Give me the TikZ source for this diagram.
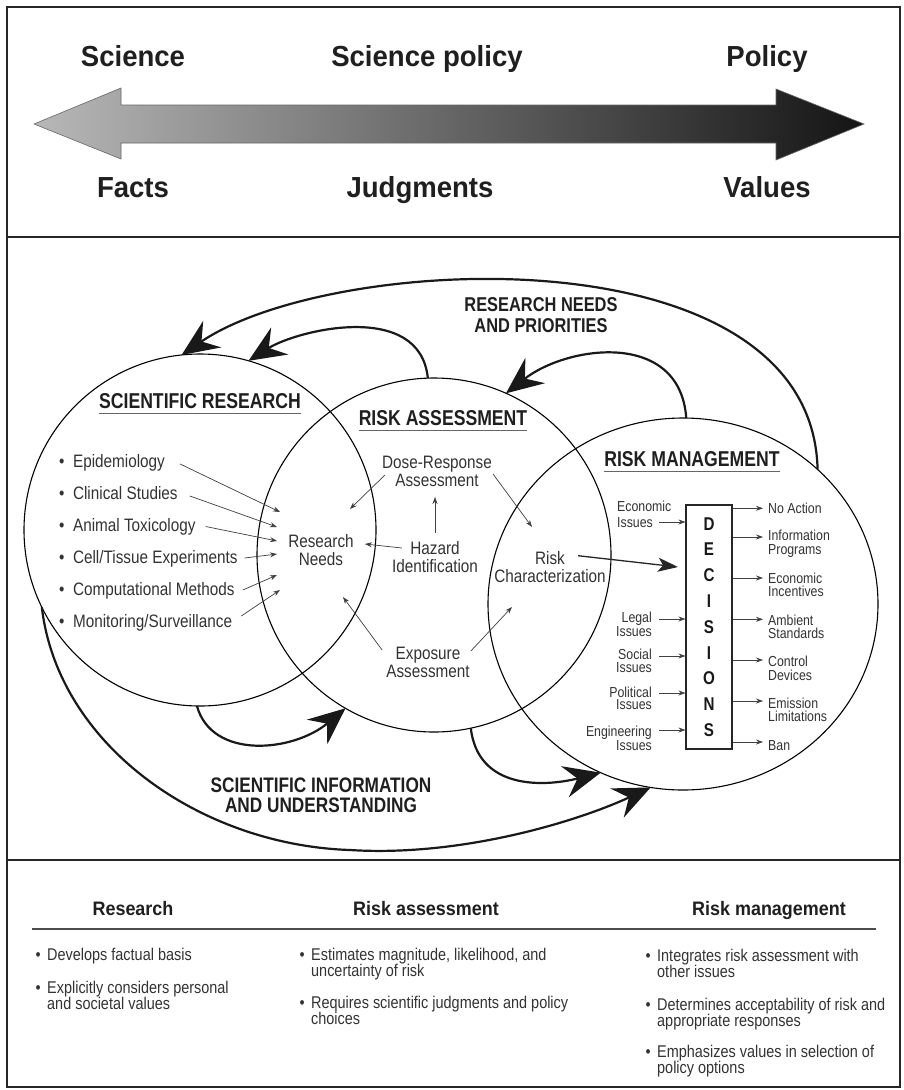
\documentclass[tikz,border=0pt]{standalone}
\usepackage{fontspec}
\setmainfont{Liberation Sans}
\newfontfamily\cn[FakeStretch=0.85]{Liberation Sans}
\newfontfamily\cb[FakeStretch=0.82]{Liberation Sans}
\newfontfamily\cm[FakeStretch=0.92]{Liberation Sans}
\newfontfamily\cw[FakeStretch=0.95]{Liberation Sans}
\usetikzlibrary{arrows.meta,shapes.geometric,calc}
\begin{document}
\begin{tikzpicture}[x=1pt,y=-1pt,
  frame/.style={draw=black!85,line width=2pt},
  ring/.style={draw=black,line width=1.1pt,circle,inner sep=0pt,outer sep=0pt},
  big/.style={line width=2.2pt,draw=black!90,-{Stealth[length=37pt,width=32pt,inset=13pt]}},
  medarrow/.style={line width=1.3pt,draw=black!85,-{Stealth[length=20pt,width=14pt,inset=5pt]}},
  tarrow/.style={draw=black!75,line width=0.7pt,-{Stealth[length=7pt,width=5pt]}},
  toptxt/.style={font=\cw\bfseries\fontsize{29}{29}\selectfont,text=black!88,anchor=base,inner sep=0pt},
  title/.style={font=\cb\bfseries\fontsize{21.5}{21.5}\selectfont,text=black!88,anchor=base,inner sep=0pt},
  bigl/.style={font=\cb\bfseries\fontsize{20}{21}\selectfont,text=black!88,align=center,anchor=north,inner sep=0pt},
  item/.style={font=\cn\fontsize{18}{18}\selectfont,text=black!80,anchor=base west,inner sep=0pt},
  lab/.style={font=\cn\fontsize{18}{18}\selectfont,text=black!80,align=center,anchor=north,inner sep=0pt},
  sm/.style={font=\cn\fontsize{14.5}{12.6}\selectfont,text=black!80,inner sep=0pt},
  smr/.style={font=\cn\fontsize{14.5}{13.3}\selectfont,text=black!80,inner sep=0pt,anchor=north west,align=left},
  hdr/.style={font=\cm\bfseries\fontsize{19.5}{19.5}\selectfont,text=black!88,anchor=base,inner sep=0pt},
  bl/.style={font=\cn\fontsize{17}{15}\selectfont,text=black!80,align=left,anchor=north west,inner sep=0pt},
  uline/.style={draw=black!60,line width=0.8pt}
]
\useasboundingbox (0,0) rectangle (903,1090);
\fill[white] (0,0) rectangle (903,1090);

% frame
\draw[frame] (7,7) rectangle (900,1087);
\draw[frame] (7,237) -- (900,237);
\draw[frame] (7,860) -- (900,860);

% top double arrow
\path[left color=black!28,right color=black!92,draw=black!60,line width=0.6pt]
  (34,124) -- (121,88) -- (121,105) -- (776,105) -- (776,89) -- (864,124)
  -- (776,160) -- (776,143) -- (121,143) -- (121,159) -- cycle;
\node[toptxt] (sci) at (133,66) {Science};
\node[toptxt] (scp) at (427,66) {Science policy};
\node[toptxt] (pol) at (767,66) {Policy};
\node[toptxt] (fac) at (133,197) {Facts};
\node[toptxt] (jud) at (420,197) {Judgments};
\node[toptxt] (val) at (767,197) {Values};

% circles
\node[ring,minimum size=352pt] (sr) at (200,530) {};
\node[ring,minimum size=354pt] (ra) at (434,555) {};
\node[ring,ellipse,minimum width=390pt,minimum height=372pt] (rm) at (683,604) {};

% big feedback arrows
\draw[big] (rm.45) .. controls (812,230) and (333,252) .. (sr.96.5);
\draw[big] (ra.92) .. controls (420,300) and (297,330) .. (sr.74);
\draw[big] (rm.89) .. controls (680,330) and (568,345) .. (ra.66);
\draw[big] (sr.-91) .. controls (212,760) and (293,752) .. (ra.240);
\draw[big] (ra.-78) .. controls (478,790) and (544,787) .. (rm.244);
\draw[big] (sr.206) .. controls (58,745) and (200,845) .. (350,850)
   .. controls (460,857) and (576,822) .. (rm.260);

\node[bigl] (rnp) at (541,297) {RESEARCH NEEDS\\AND PRIORITIES};
\node[bigl,font=\cb\bfseries\fontsize{21}{20}\selectfont] (siu) at (321,778) {SCIENTIFIC INFORMATION\\AND UNDERSTANDING};

% titles
\node[title] (srt) at (200,408) {SCIENTIFIC RESEARCH};
\draw[uline] ([yshift=-5.5pt]srt.base west) -- ([yshift=-5.5pt]srt.base east);
\node[title] (rat) at (443,425) {RISK ASSESSMENT};
\draw[uline] ([yshift=-5pt]rat.base west) -- ([yshift=-5pt]rat.base east);
\node[title] (rmt) at (692,466) {RISK MANAGEMENT};
\draw[uline] ([yshift=-5pt]rmt.base west) -- ([yshift=-5pt]rmt.base east);

% scientific research items
\node[item] (i1) at (59,467) {•\hspace{8.5pt}Epidemiology};
\node[item] (i2) at (59,499) {•\hspace{8.5pt}Clinical Studies};
\node[item] (i3) at (59,531) {•\hspace{8.5pt}Animal Toxicology};
\node[item] (i4) at (59,563) {•\hspace{8.5pt}Cell/Tissue Experiments};
\node[item] (i5) at (59,595) {•\hspace{8.5pt}Computational Methods};
\node[item] (i6) at (59,627) {•\hspace{8.5pt}Monitoring/Surveillance};
\coordinate (e1) at (280,512);
\coordinate (e2) at (277,527);
\coordinate (e3) at (277,541);
\coordinate (e4) at (277,554);
\coordinate (e5) at (277,575);
\coordinate (e6) at (280,590);
\draw[tarrow] ([shift={(15,-3)}]i1.base east) -- (e1);
\draw[tarrow] ([shift={(12,-3)}]i2.base east) -- (e2);
\draw[tarrow] ([shift={(10,-4.5)}]i3.base east) -- (e3);
\draw[tarrow] ([shift={(7,-5)}]i4.base east) -- (e4);
\draw[tarrow] ([shift={(8,-5)}]i5.base east) -- (e5);
\draw[tarrow] ([shift={(9,-11)}]i6.base east) -- (e6);

% risk assessment labels
\node[lab] (rn) at (321,534) {Research\\Needs};
\node[lab] (hz) at (435,541) {Hazard\\Identification};
\node[lab] (dr) at (437,456) {Dose-Response\\Assessment};
\node[lab] (ex) at (428,647) {Exposure\\Assessment};
\node[lab] (rc) at (550,551.7) {Risk\\Characterization};
\draw[tarrow] ([shift={(10,7)}]hz.north west) -- ([shift={(11,10)}]rn.north east);
\draw[tarrow] ([yshift=8pt]hz.north) -- ([shift={(-2,10)}]dr.south);
\coordinate (a3) at (350,509);
\coordinate (a4) at (532,527);
\coordinate (a5) at (343,597);
\coordinate (a6) at (512,607);
\coordinate (a7) at (678,567);
\draw[tarrow] ([shift={(3,19)}]dr.north west) -- (a3);
\draw[tarrow] ([shift={(1,18)}]dr.north east) -- (a4);
\draw[tarrow] ([shift={(-4,3)}]ex.north west) -- (a5);
\draw[tarrow] ([shift={(1,4)}]ex.north east) -- (a6);
\draw[medarrow] ([shift={(28,4)}]rc.north) -- (a7);

% decisions
\node[draw=black!85,line width=1.1pt,minimum width=46pt,minimum height=244pt,inner sep=0pt,
  align=center,text=black!90,font=\cb\bfseries\fontsize{18.5}{25.8}\selectfont] (dec) at (709,627)
  {D\\E\\C\\I\\S\\I\\O\\N\\S};

\node[sm,anchor=north west,align=left,font=\cn\fontsize{14.5}{16}\selectfont] (ein) at (617,500.7) {Economic\\Issues};
\node[sm,anchor=north east,align=right] (lg) at (652,612) {Legal\\Issues};
\node[sm,anchor=north east,align=right] (so) at (652,649) {Social\\Issues};
\node[sm,anchor=north east,align=right] (po) at (652,686.5) {Political\\Issues};
\node[sm,anchor=north east,align=right] (en) at (652,725.5) {Engineering\\Issues};
\coordinate (c1) at (659,522);
\coordinate (c2) at (659,619);
\coordinate (c3) at (659,656);
\coordinate (c4) at (659,693);
\coordinate (c5) at (659,730);
\foreach \c in {c1,c2,c3,c4,c5} { \draw[tarrow] (\c) -- (\c -| dec.west); }

\node[smr] (o1) at (768,503) {No Action};
\node[smr] (o2) at (768,530) {Information\\Programs};
\node[smr] (o3) at (768,572.5) {Economic\\Incentives};
\node[smr] (o4) at (768,614.5) {Ambient\\Standards};
\node[smr] (o5) at (768,656) {Control\\Devices};
\node[smr] (o6) at (768,697.5) {Emission\\Limitations};
\node[smr] (o7) at (768,740) {Ban};
\coordinate (q1) at (763,508.3);
\coordinate (q2) at (763,537);
\coordinate (q3) at (763,578);
\coordinate (q4) at (763,619.3);
\coordinate (q5) at (763,660);
\coordinate (q6) at (763,701);
\coordinate (q7) at (763,742);
\foreach \q in {q1,q2,q3,q4,q5,q6,q7} { \draw[tarrow] (\q -| dec.east) -- (\q); }

% bottom panel
\node[hdr] (h1) at (133,915) {Research};
\node[hdr] (h2) at (426,915) {Risk assessment};
\node[hdr] (h3) at (769,915) {Risk management};
\draw[draw=black!70,line width=1.2pt] (32,929) -- (876,929);

\node[bl] (b11) at (35.5,947.6) {\makebox[11.5pt][l]{•}Develops factual basis};
\node[bl] (b12) at (35.5,980.6) {\makebox[11.5pt][l]{•}Explicitly considers personal\\\hspace*{11.5pt}and societal values};
\node[bl] (b21) at (299.5,947.6) {\makebox[11.5pt][l]{•}Estimates magnitude, likelihood, and\\\hspace*{11.5pt}uncertainty of risk};
\node[bl] (b22) at (299.5,995.6) {\makebox[11.5pt][l]{•}Requires scientific judgments and policy\\\hspace*{11.5pt}choices};
\node[bl] (b31) at (645.5,948.6) {\makebox[11.5pt][l]{•}Integrates risk assessment with\\\hspace*{11.5pt}other issues};
\node[bl] (b32) at (645.5,997.6) {\makebox[11.5pt][l]{•}Determines acceptability of risk and\\\hspace*{11.5pt}appropriate responses};
\node[bl] (b33) at (645.5,1044.6) {\makebox[11.5pt][l]{•}Emphasizes values in selection of\\\hspace*{11.5pt}policy options};
\end{tikzpicture}
\end{document}
